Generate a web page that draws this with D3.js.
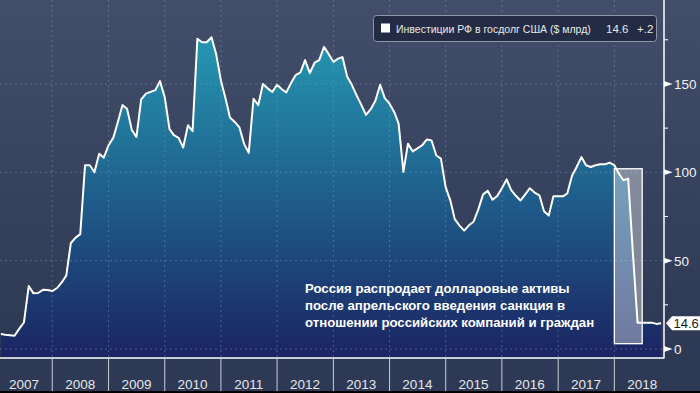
<!DOCTYPE html>
<html>
<head>
<meta charset="utf-8">
<script src="https://cdn.jsdelivr.net/npm/d3@7"></script>
<style>
  body { margin: 0; background: #2e3a55; }
  svg { display: block; }
  text { font-family: "Liberation Sans", Arial, sans-serif; }
</style>
</head>
<body>
<script>
// monthly values, $ bn, first point = end of Jan 2007
var firstMonth = "2007-02-01";
var values = [
  8.5, 8.1, 7.8, 7.5, 11.5, 15, 35.6, 31.5, 31.7, 33.5, 33.4, 32.8,
  34.5, 37.5, 41.5, 60, 63, 65, 104, 104, 100, 110.5, 108.3, 115.3,
  119.6, 128, 138, 136, 124, 120, 141.2, 144.5, 145.5, 146.5, 151.6, 142.5,
  124.5, 121, 119.5, 114, 126.6, 123.3, 175.5, 173.6, 173.6, 176.4, 167, 152,
  141.5, 131, 128.5, 125.5, 116, 111, 141.6, 138, 150, 147.5, 145.4, 149.5,
  147, 145.2, 150.5, 155, 156.5, 163.5, 156.1, 162, 163.5, 171, 167, 162.5,
  164.3, 165.2, 154, 149.5, 143.5, 138.3, 132.5, 135.7, 140.5, 149.5, 142, 138.8,
  134, 127.5, 100.2, 116.2, 111.8, 113.5, 115.3, 118.6, 118, 109.5, 107.7, 91.5,
  83.8, 73.5, 69.8, 67, 70, 72, 79, 87.5, 89.5, 84.5, 86.5, 91,
  96, 90, 86.7, 84, 87.5, 91, 88.5, 87, 78, 75.5, 86.5, 86.5,
  86.4, 88, 98, 103, 108.6, 104, 103, 104, 104.5, 104.5, 105.5, 104,
  99, 95.5, 96.4, 55, 14.9, 14.9, 14.9, 14.9, 14.2, 14.6
];
var years = [2007, 2008, 2009, 2010, 2011, 2012, 2013, 2014, 2015, 2016, 2017, 2018];
var yTicks = [0, 50, 100, 150];
var yMinorTicks = [25, 75, 125, 175];
var legendLabel = "Инвестиции РФ в госдолг США ($ млрд)";
var legendValues = ["14.6", "+.2"];
var lastLabel = "14.6";
var noteLines = [
  "Россия распродает долларовые активы",
  "после апрельского введения санкция в",
  "отношении российских компаний и граждан"
];
var highlightDates = ["2018-01-01", "2018-07-01"];
var highlightValues = [3, 102];

var width = 700,
    height = 393,
    plotRight = 664,
    plotBottom = 358;

var parse = d3.timeParse("%Y-%m-%d");
var start = parse(firstMonth);
var data = values.map(function(v, i) {
    return {date: d3.timeMonth.offset(start, i), value: v};
});

var x = d3.scaleTime()
    .domain([new Date(2007, 0, 1), new Date(2019, 0, 1)])
    .range([-3.9, 670.5]);

var y = d3.scaleLinear()
    .domain([-5.1, 197.5])
    .range([plotBottom, 0]);

var svg = d3.select("body").append("svg")
    .attr("width", width)
    .attr("height", height);

var defs = svg.append("defs");

var bg = defs.append("linearGradient")
    .attr("id", "bg")
    .attr("x1", 0).attr("x2", 0).attr("y1", 0).attr("y2", 1);
bg.append("stop").attr("offset", "0%").attr("stop-color", "#424e6a");
bg.append("stop").attr("offset", "100%").attr("stop-color", "#2d3853");

var fillGrad = defs.append("linearGradient")
    .attr("id", "areaFill")
    .attr("gradientUnits", "userSpaceOnUse")
    .attr("x1", 0).attr("x2", 0).attr("y1", 35).attr("y2", plotBottom);
fillGrad.append("stop").attr("offset", "0%").attr("stop-color", "#2598b2");
fillGrad.append("stop").attr("offset", "50%").attr("stop-color", "#1f5e8c");
fillGrad.append("stop").attr("offset", "100%").attr("stop-color", "#1b2462");

defs.append("clipPath").attr("id", "plotClip")
  .append("rect")
    .attr("x", 0).attr("y", 0)
    .attr("width", plotRight).attr("height", plotBottom);

// backgrounds
svg.append("rect")
    .attr("width", width).attr("height", plotBottom)
    .attr("fill", "url(#bg)");
svg.append("rect")
    .attr("y", plotBottom).attr("width", width).attr("height", height - plotBottom)
    .attr("fill", "#2e3a55");
svg.append("rect")
    .attr("y", height - 2).attr("width", width).attr("height", 2)
    .attr("fill", "#000");

var plot = svg.append("g").attr("clip-path", "url(#plotClip)");

// area + line
var area = d3.area()
    .x(function(d) { return x(d.date); })
    .y0(plotBottom)
    .y1(function(d) { return y(d.value); });

var line = d3.line()
    .x(function(d) { return x(d.date); })
    .y(function(d) { return y(d.value); });

plot.append("path")
    .datum(data)
    .attr("d", area)
    .attr("fill", "url(#areaFill)");

// grid on top of the fill
plot.selectAll(".hgrid")
    .data(yTicks)
    .enter().append("line")
    .attr("x1", 0).attr("x2", plotRight)
    .attr("y1", function(d) { return y(d); })
    .attr("y2", function(d) { return y(d); })
    .attr("stroke", "#7f9cc0")
    .attr("stroke-opacity", 0.45)
    .attr("stroke-dasharray", "2,3");

plot.selectAll(".vgrid")
    .data(years.slice(1))
    .enter().append("line")
    .attr("x1", function(d) { return x(new Date(d, 0, 1)); })
    .attr("x2", function(d) { return x(new Date(d, 0, 1)); })
    .attr("y1", 0).attr("y2", plotBottom)
    .attr("stroke", "#7f9cc0")
    .attr("stroke-opacity", 0.45)
    .attr("stroke-dasharray", "2,3");

plot.append("path")
    .datum(data)
    .attr("d", line)
    .attr("fill", "none")
    .attr("stroke", "#fff")
    .attr("stroke-width", 2)
    .attr("stroke-linejoin", "round");

// highlight box
var hx0 = x(parse(highlightDates[0])),
    hx1 = x(parse(highlightDates[1]));
svg.append("rect")
    .attr("x", hx0)
    .attr("y", y(highlightValues[1]))
    .attr("width", hx1 - hx0)
    .attr("height", y(highlightValues[0]) - y(highlightValues[1]))
    .attr("fill", "#fff")
    .attr("fill-opacity", 0.38)
    .attr("stroke", "#fff")
    .attr("stroke-width", 1.3);

// frame
svg.append("line")
    .attr("x1", plotRight).attr("x2", plotRight)
    .attr("y1", 0).attr("y2", plotBottom + 0.5)
    .attr("stroke", "#fff").attr("stroke-width", 1.5);
svg.append("line")
    .attr("x1", 0).attr("x2", plotRight)
    .attr("y1", plotBottom).attr("y2", plotBottom)
    .attr("stroke", "#fff").attr("stroke-width", 1.5);

// right axis
var yAxis = svg.append("g");
yAxis.selectAll(".tri")
    .data(yTicks)
    .enter().append("path")
    .attr("d", function(d) {
        var ty = y(d);
        return "M" + plotRight + "," + (ty - 3) + "L" + (plotRight + 8.5) + "," + ty + "L" + plotRight + "," + (ty + 3) + "Z";
    })
    .attr("fill", "#fff");
yAxis.selectAll(".lab")
    .data(yTicks)
    .enter().append("text")
    .attr("x", 674)
    .attr("y", function(d) { return y(d) + 5; })
    .attr("fill", "#f0f0f0")
    .style("font-size", "13.5px")
    .text(function(d) { return d; });
yAxis.selectAll(".minor")
    .data(yMinorTicks)
    .enter().append("line")
    .attr("x1", plotRight).attr("x2", plotRight + 4)
    .attr("y1", function(d) { return y(d); })
    .attr("y2", function(d) { return y(d); })
    .attr("stroke", "#fff");

// bottom axis
var xAxis = svg.append("g");
xAxis.selectAll(".tick")
    .data(years.slice(1))
    .enter().append("line")
    .attr("x1", function(d) { return x(new Date(d, 0, 1)); })
    .attr("x2", function(d) { return x(new Date(d, 0, 1)); })
    .attr("y1", plotBottom).attr("y2", height - 2)
    .attr("stroke", "#c9cdd6");
xAxis.selectAll(".year")
    .data(years)
    .enter().append("text")
    .attr("x", function(d) { return x(new Date(d, 6, 1)); })
    .attr("y", 389)
    .attr("text-anchor", "middle")
    .attr("fill", "#e6e6e6")
    .style("font-size", "13.5px")
    .text(function(d) { return d; });

// last value tag
var ly = y(values[values.length - 1]);
svg.append("path")
    .attr("d", "M666," + ly + "L672," + (ly - 7) + "L700," + (ly - 7) + "L700," + (ly + 7) + "L672," + (ly + 7) + "Z")
    .attr("fill", "#fff");
svg.append("text")
    .attr("x", 673.5)
    .attr("y", ly + 5)
    .attr("fill", "#1a1a1a")
    .style("font-size", "13px")
    .text(lastLabel);

// legend
var legend = svg.append("g");
legend.append("rect")
    .attr("x", 373.5).attr("y", 15.5)
    .attr("width", 283).attr("height", 26)
    .attr("rx", 3)
    .attr("fill", "#232c44")
    .attr("stroke", "#8d95a6");
legend.append("rect")
    .attr("x", 381).attr("y", 23.5)
    .attr("width", 9).attr("height", 9)
    .attr("fill", "#fff");
legend.append("text")
    .attr("x", 396).attr("y", 32.5)
    .attr("fill", "#e8e8e8")
    .style("font-size", "10.5px")
    .text(legendLabel);
legend.append("text")
    .attr("x", 606).attr("y", 32.5)
    .attr("fill", "#e8e8e8")
    .style("font-size", "11.5px")
    .text(legendValues[0]);
legend.append("text")
    .attr("x", 637).attr("y", 32.5)
    .attr("fill", "#e8e8e8")
    .style("font-size", "11.5px")
    .text(legendValues[1]);

// note
svg.append("g").selectAll("text")
    .data(noteLines)
    .enter().append("text")
    .attr("x", 305)
    .attr("y", function(d, i) { return 293 + i * 17; })
    .attr("fill", "#fff")
    .style("font-size", "13.2px")
    .style("font-weight", "bold")
    .text(function(d) { return d; });
</script>
</body>
</html>
